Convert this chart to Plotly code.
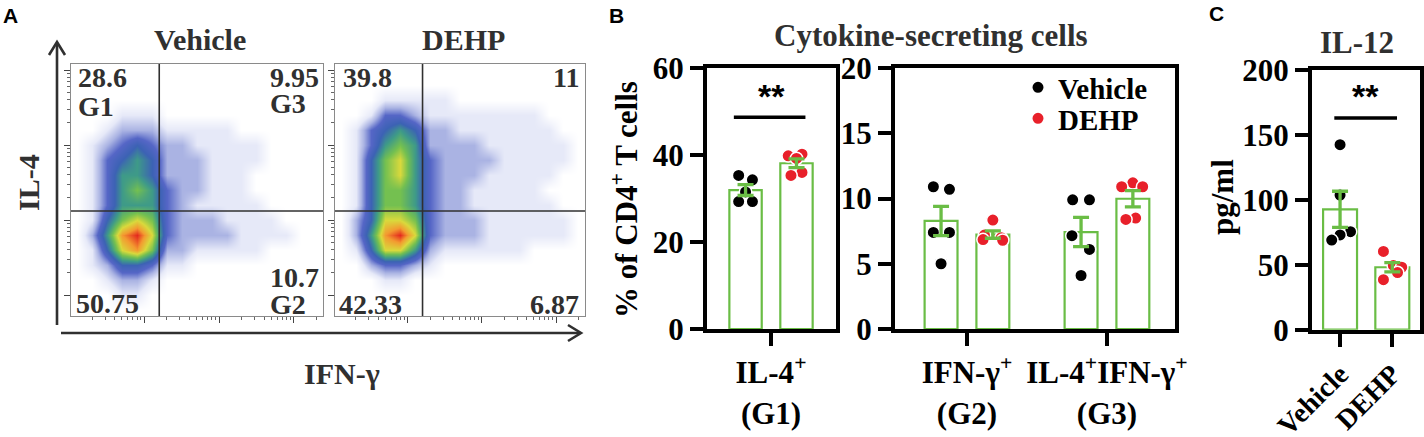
import numpy as np
import plotly.graph_objects as go

W, H = 1424, 437
SERIF = "Liberation Serif, Times New Roman, serif"
SANS = "Liberation Sans, Arial, sans-serif"
GREEN = "#6abd45"
RED = "#e8202a"
INK = "#303030"

# ---------------- Panel A: IL-4 vs IFN-g flow plots ----------------
# density level 0-9, axis units are decades
flow_x = [2.1, 2.3, 2.5, 2.7, 2.9, 3.1, 3.3, 3.5, 3.7, 3.9, 4.1, 4.3, 4.5, 4.7, 4.9, 5.1, 5.3]
flow_y = [5.0, 4.8, 4.6, 4.4, 4.2, 4.0, 3.8, 3.6, 3.4, 3.2, 3.0, 2.8, 2.6, 2.4, 2.2, 2.0, 1.8]  # top -> bottom

vehicle_density = [
    [0, 0, 0, 0, 0, 0, 0, 0, 0, 0, 0, 0, 0, 0, 0, 0, 0],
    [0, 0, 0, 0, 0, 0, 0, 0, 0, 0, 0, 0, 0, 0, 0, 0, 0],
    [0, 0, 0, 0, 0, 0, 0, 0, 0, 0, 0, 0, 0, 0, 0, 0, 0],
    [0, 0, 0, 1, 1, 1, 0, 0, 0, 0, 0, 0, 0, 0, 0, 0, 0],
    [0, 0, 1, 2, 2, 2, 1, 1, 1, 1, 1, 0, 0, 0, 0, 0, 0],
    [0, 1, 2, 3, 4, 3, 2, 2, 1, 1, 1, 1, 1, 0, 0, 0, 0],
    [0, 1, 3, 4, 5, 4, 2, 2, 2, 1, 1, 1, 1, 0, 0, 0, 0],
    [0, 1, 3, 5, 5, 4, 2, 2, 2, 1, 1, 1, 0, 0, 0, 0, 0],
    [0, 1, 3, 5, 6, 5, 3, 2, 2, 1, 1, 1, 0, 0, 0, 0, 0],
    [0, 1, 3, 5, 5, 5, 3, 2, 1, 1, 1, 1, 1, 0, 0, 0, 0],
    [0, 1, 4, 6, 7, 6, 3, 2, 2, 2, 1, 1, 1, 1, 0, 0, 0],
    [0, 2, 5, 8, 9, 7, 3, 2, 2, 2, 2, 1, 1, 1, 1, 0, 0],
    [0, 1, 4, 7, 8, 6, 2, 2, 1, 1, 1, 1, 1, 0, 0, 0, 0],
    [0, 1, 2, 4, 4, 3, 1, 1, 0, 0, 0, 0, 0, 0, 0, 0, 0],
    [0, 0, 1, 2, 2, 1, 0, 0, 0, 0, 0, 0, 0, 0, 0, 0, 0],
    [0, 0, 0, 1, 1, 0, 0, 0, 0, 0, 0, 0, 0, 0, 0, 0, 0],
    [0, 0, 0, 0, 0, 0, 0, 0, 0, 0, 0, 0, 0, 0, 0, 0, 0],
]
dehp_density = [
    [0, 0, 0, 0, 0, 0, 0, 0, 0, 0, 0, 0, 0, 0, 0, 0, 0],
    [0, 0, 0, 0, 0, 0, 0, 0, 0, 0, 0, 0, 0, 0, 0, 0, 0],
    [0, 0, 0, 1, 1, 1, 1, 1, 0, 0, 0, 0, 0, 0, 0, 0, 0],
    [0, 0, 1, 3, 3, 2, 1, 1, 1, 1, 1, 1, 1, 1, 0, 0, 0],
    [0, 1, 3, 4, 5, 4, 2, 2, 1, 1, 1, 1, 1, 1, 1, 0, 0],
    [0, 1, 3, 5, 6, 5, 2, 2, 2, 2, 1, 1, 1, 1, 1, 1, 0],
    [0, 1, 4, 6, 7, 5, 3, 2, 2, 2, 2, 1, 1, 1, 1, 1, 0],
    [0, 1, 4, 6, 7, 5, 3, 2, 2, 2, 1, 1, 1, 1, 1, 0, 0],
    [0, 1, 4, 6, 6, 5, 3, 2, 2, 1, 1, 1, 1, 1, 0, 0, 0],
    [0, 1, 4, 6, 6, 5, 3, 2, 2, 1, 1, 1, 1, 1, 1, 0, 0],
    [0, 2, 4, 7, 7, 6, 3, 2, 2, 2, 1, 1, 1, 1, 1, 1, 0],
    [0, 2, 5, 8, 9, 7, 3, 2, 2, 2, 1, 1, 1, 1, 1, 1, 0],
    [0, 1, 4, 7, 7, 5, 2, 1, 1, 1, 1, 1, 1, 0, 0, 0, 0],
    [0, 0, 2, 3, 3, 2, 1, 0, 0, 0, 0, 0, 0, 0, 0, 0, 0],
    [0, 0, 0, 1, 1, 0, 0, 0, 0, 0, 0, 0, 0, 0, 0, 0, 0],
    [0, 0, 0, 0, 0, 0, 0, 0, 0, 0, 0, 0, 0, 0, 0, 0, 0],
    [0, 0, 0, 0, 0, 0, 0, 0, 0, 0, 0, 0, 0, 0, 0, 0, 0],
]
gate_ifng = 3.2
gate_il4 = 3.12
vehicle_quadrants = ["28.6", "9.95", "10.7", "50.75"]  # UL, UR, LR, LL
dehp_quadrants = ["39.8", "11", "6.87", "42.33"]
gate_names = ["G1", "G3", "G2"]

# ---------------- Panel B: cytokine-secreting cells (% of CD4+) ----------------
b_left_cats = ["IL-4<sup>+</sup><br>(G1)"]
b_right_cats = ["IFN-γ<sup>+</sup><br>(G2)", "IL-4<sup>+</sup>IFN-γ<sup>+</sup><br>(G3)"]
vehicle_g1 = [35.3, 34.3, 31.5, 29.3, 29.3]
dehp_g1 = [40.2, 39.8, 39.2, 36.0, 35.3]
vehicle_g2 = [10.9, 10.7, 7.4, 7.4, 5.0]
dehp_g2 = [8.35, 7.2, 7.0, 6.85, 6.8]
vehicle_g3 = [9.9, 9.9, 7.15, 6.1, 4.1]
dehp_g3 = [11.2, 10.9, 10.9, 8.5, 8.4]

# ---------------- Panel C: IL-12 (pg/ml) ----------------
c_cats = ["Vehicle", "DEHP"]
il12_vehicle = [142.5, 103.7, 75.5, 73.0, 69.0]
il12_dehp = [60.3, 49.5, 48.1, 44.0, 38.5]

# horizontal scatter of the dots inside each bar (category units)
jit_vehicle_g1 = [-0.05, 0.05, 0.0, -0.05, 0.05]
jit_dehp_g1 = [0.04, -0.06, 0.0, 0.04, -0.04]
jit_vehicle_g2 = [-0.055, 0.06, -0.055, 0.06, 0.0]
jit_dehp_g2 = [0.0, -0.06, 0.06, -0.07, 0.07]
jit_vehicle_g3 = [-0.06, 0.06, -0.065, 0.06, 0.0]
jit_dehp_g3 = [0.0, -0.08, 0.07, 0.02, -0.05]
jit_vehicle_c = [0.0, 0.0, 0.2, 0.0, -0.16]
jit_dehp_c = [-0.17, 0.02, 0.18, 0.1, -0.17]

fig = go.Figure()


def px(x):
    return x / W


def py(y):
    return 1 - y / H


# --- flow density maps ---
density_scale = [
    [0 / 9, "#ffffff"], [1 / 9, "#e6e9f8"], [2 / 9, "#aab3e3"], [3 / 9, "#5566c6"],
    [4 / 9, "#3c62b4"], [5 / 9, "#3e9a88"], [6 / 9, "#74c050"], [7 / 9, "#d9d93c"],
    [8 / 9, "#f39a30"], [9 / 9, "#e4281e"],
]
for dens, xa, ya in [(vehicle_density, "x", "y"), (dehp_density, "x2", "y2")]:
    fig.add_trace(go.Heatmap(
        x=flow_x, y=flow_y[::-1], z=dens[::-1], zmin=0, zmax=9,
        zsmooth="best", colorscale=density_scale, showscale=False,
        hoverinfo="skip", xaxis=xa, yaxis=ya,
    ))


# --- bars + dots + SEM ---
def add_bars(xa, ya, centers, sets, jitters, color, name, legend, width, legend_id="legend"):
    means = [float(np.mean(v)) for v in sets]
    sems = [float(np.std(v, ddof=1) / np.sqrt(len(v))) for v in sets]
    fig.add_trace(go.Bar(
        x=centers, y=means, width=width,
        marker=dict(color="rgba(0,0,0,0)", line=dict(color=GREEN, width=2.2)),
        xaxis=xa, yaxis=ya, showlegend=False, hoverinfo="skip",
    ))
    dot_x, dot_y = [], []
    for c, v, j in zip(centers, sets, jitters):
        dot_x += [c + d for d in j]
        dot_y += list(v)
    fig.add_trace(go.Scatter(
        x=dot_x, y=dot_y, mode="markers", name=name, showlegend=legend, legend=legend_id,
        marker=dict(size=12.5, color=color, line=dict(color="white", width=1.5)),
        xaxis=xa, yaxis=ya, hoverinfo="skip",
    ))
    fig.add_trace(go.Scatter(
        x=centers, y=means, mode="markers",
        marker=dict(size=1, color="rgba(0,0,0,0)"),
        error_y=dict(type="data", array=sems, color=GREEN, thickness=3.3, width=8),
        xaxis=xa, yaxis=ya, showlegend=False, hoverinfo="skip",
    ))


OFF, BW = 0.185, 0.235
add_bars("x3", "y3", [0 - OFF], [vehicle_g1], [jit_vehicle_g1], "black", "Vehicle", False, BW)
add_bars("x3", "y3", [0 + OFF], [dehp_g1], [jit_dehp_g1], RED, "DEHP", False, BW)
add_bars("x4", "y4", [i - OFF for i in range(2)], [vehicle_g2, vehicle_g3],
         [jit_vehicle_g2, jit_vehicle_g3], "black", "Vehicle", True, BW, "legend")
add_bars("x4", "y4", [i + OFF for i in range(2)], [dehp_g2, dehp_g3],
         [jit_dehp_g2, jit_dehp_g3], RED, "DEHP", True, BW, "legend2")
add_bars("x5", "y5", [0], [il12_vehicle], [jit_vehicle_c], "black", "Vehicle", False, 0.65)
add_bars("x5", "y5", [1], [il12_dehp], [jit_dehp_c], RED, "DEHP", False, 0.65)

# --- axes ---
majors = [2, 3, 4, 5]
minors = [d + np.log10(k) for d in majors for k in range(2, 10)]
flow_common = dict(
    showline=True, mirror=True, linecolor="#8a8a8a", linewidth=1,
    ticks="outside", ticklen=6, tickwidth=1, tickcolor="#444",
    tickmode="array", tickvals=majors, showticklabels=False,
    showgrid=False, zeroline=False, fixedrange=True, automargin=False,
    minor=dict(ticks="outside", ticklen=3, tickwidth=1, tickcolor="#666",
               tickmode="array", tickvals=minors, showgrid=False),
)
flow_xrange = [2.02, 5.39]
flow_yrange = [1.72, 5.08]
a_y = [py(316), py(64)]

bold_tick = dict(family=SERIF, size=31, color="black", weight="bold")
box = dict(showline=True, mirror=True, linecolor="black", linewidth=4,
           ticks="outside", ticklen=13, tickwidth=4, tickcolor="black",
           tickfont=bold_tick, showgrid=False, zeroline=False, fixedrange=True,
           automargin=False)
b_y = [py(329), py(68)]
c_y = [py(329.7), py(70)]

fig.update_layout(
    xaxis=dict(flow_common, domain=[px(71), px(323)], range=flow_xrange, anchor="y"),
    yaxis=dict(flow_common, domain=a_y, range=flow_yrange, anchor="x"),
    xaxis2=dict(flow_common, domain=[px(335), px(585)], range=flow_xrange, anchor="y2"),
    yaxis2=dict(flow_common, domain=a_y, range=flow_yrange, anchor="x2"),
    xaxis3=dict(box, domain=[px(707), px(836)], range=[-0.465, 0.472], anchor="y3",
                tickmode="array", tickvals=[0], ticktext=b_left_cats),
    yaxis3=dict(box, domain=b_y, range=[0, 60], anchor="x3", tickvals=[0, 20, 40, 60]),
    xaxis4=dict(box, domain=[px(895), px(1175)], range=[-0.514, 1.486], anchor="y4",
                tickmode="array", tickvals=[0, 1], ticktext=b_right_cats),
    yaxis4=dict(box, domain=b_y, range=[0, 20], anchor="x4", tickvals=[0, 5, 10, 15, 20]),
    xaxis5=dict(box, domain=[px(1312), px(1420)], range=[-0.537, 1.53], anchor="y5",
                tickmode="array", tickvals=[0, 1], ticktext=c_cats, tickangle=-45,
                tickfont=dict(bold_tick, size=28)),
    yaxis5=dict(box, domain=c_y, range=[0, 200], anchor="x5", tickvals=[0, 50, 100, 150, 200]),
)

# --- gates on the flow plots ---
shapes = []
for xa, ya in [("x", "y"), ("x2", "y2")]:
    shapes.append(dict(type="line", xref=xa, yref=f"{ya} domain", x0=gate_ifng, x1=gate_ifng,
                       y0=0, y1=1, line=dict(color=INK, width=1.6)))
    shapes.append(dict(type="line", xref=f"{xa} domain", yref=ya, x0=0, x1=1,
                       y0=gate_il4, y1=gate_il4, line=dict(color=INK, width=1.6)))


def pt(x, y):
    return f"{px(x):.5f},{py(y):.5f}"


# axis arrows of panel A
for path in [
    f"M{pt(57, 325)} L{pt(57, 43)}",
    f"M{pt(49, 55)} L{pt(57, 42)} L{pt(65, 55)}",
    f"M{pt(61, 333)} L{pt(580, 333)}",
    f"M{pt(568, 325)} L{pt(581, 333)} L{pt(568, 341)}",
]:
    shapes.append(dict(type="path", xref="paper", yref="paper", path=path,
                       line=dict(color=INK, width=2.6)))

# significance bars
sig_marks = [("x3", "y3", -0.27, 0.25, 48.7, 0.0, 53.6),
             ("x5", "y5", -0.11, 1.09, 163, 0.49, 180)]
annotations = []
for xa, ya, x0, x1, yl, xt, yt in sig_marks:
    shapes.append(dict(type="line", xref=xa, yref=ya, x0=x0, x1=x1, y0=yl, y1=yl,
                       line=dict(color="black", width=3.5)))
    annotations.append(dict(text="<b>**</b>", x=xt, y=yt, xref=xa, yref=ya, showarrow=False,
                            font=dict(family=SANS, size=34, color="black")))


def note(text, x, y, size, xanchor="center", color=INK, family=SERIF, angle=0):
    annotations.append(dict(text=f"<b>{text}</b>", x=px(x), y=py(y), xref="paper", yref="paper",
                            showarrow=False, xanchor=xanchor, yanchor="middle",
                            textangle=angle, font=dict(family=family, size=size, color=color)))


# panel letters
note("A", 1, 15, 21, "left", "black", SANS)
note("B", 607, 15, 21, "left", "black", SANS)
note("C", 1207, 13, 21, "left", "black", SANS)

# panel A texts
note("Vehicle", 200, 39, 30)
note("DEHP", 463, 39, 30)
note("IL-4", 28, 183, 30, angle=-90)
note("IFN-γ", 342, 373, 30)
note(vehicle_quadrants[0], 76, 78, 28, "left")
note(gate_names[0], 76, 106, 28, "left")
note(vehicle_quadrants[1], 268, 77, 28, "left")
note(gate_names[1], 268, 103, 28, "left")
note(vehicle_quadrants[2], 268, 277, 28, "left")
note(gate_names[2], 268, 304, 28, "left")
note(vehicle_quadrants[3], 74, 303, 28, "left")
note(dehp_quadrants[0], 341, 77, 28, "left")
note(dehp_quadrants[1], 581, 77, 28, "right")
note(dehp_quadrants[2], 581, 304, 28, "right")
note(dehp_quadrants[3], 337, 304, 28, "left")

# panel B / C texts
note("Cytokine-secreting cells", 931, 36, 31)
note("% of CD4<sup>+</sup> T cells", 624, 200, 31, color="black", angle=-90)
note("IL-12", 1357, 42, 31)
note("pg/ml", 1222, 197, 31, color="black", angle=-90)

legend_font = dict(family=SERIF, size=29, color="black", weight="bold")
fig.update_layout(
    width=W, height=H,
    margin=dict(l=0, r=0, t=0, b=0, pad=0, autoexpand=False),
    paper_bgcolor="white", plot_bgcolor="white",
    shapes=shapes, annotations=annotations,
    showlegend=True,
    legend=dict(x=px(1018), y=py(62), xanchor="left", yanchor="top",
                bgcolor="rgba(0,0,0,0)", font=legend_font),
    legend2=dict(x=px(1018), y=py(93), xanchor="left", yanchor="top",
                 bgcolor="rgba(0,0,0,0)", font=legend_font),
    hovermode=False,
)

fig.write_html("out.html", config={"displayModeBar": False},
               post_script="document.body.style.margin='0px';")
